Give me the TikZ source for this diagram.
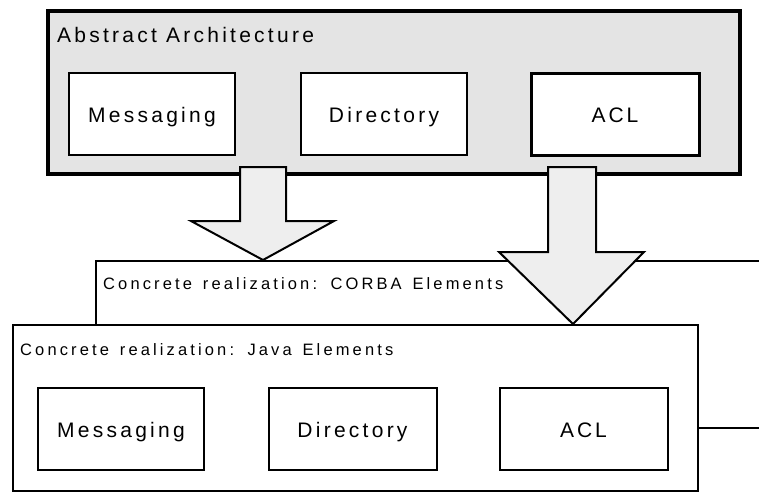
\documentclass[tikz,border=0pt]{standalone}
\usepackage{fontspec}
\setmainfont{Liberation Sans}
\newfontfamily\bigfont[LetterSpace=15.5]{Liberation Sans}
\newfontfamily\smallfont[LetterSpace=19,WordSpace=1.4]{Liberation Sans}
\definecolor{archgray}{HTML}{E4E4E4}
\definecolor{arrowgray}{HTML}{EEEEEE}

\begin{document}
\begin{tikzpicture}[x=1pt,y=-1pt]

      \useasboundingbox (0,0) rectangle (759,493);

      % back layers
      \draw[line width=2pt,fill=white] (759,261) -- (96,261) -- (96,330);
      \node[draw,line width=2pt,fill=white,minimum width=685pt,minimum height=166pt,inner sep=0pt] (java) at (355.5,408) {};
      \coordinate (rim) at (759,428);
      \draw[line width=2pt] (java.east |- rim) -- (rim);

      \begin{scope}[every node/.style={anchor=base west,inner sep=0pt,font=\smallfont\fontsize{16.5}{20}\selectfont}]
        \node (corbalabel) at (103,289) {Concrete realization: CORBA Elements};
        \node (javalabel) at (20,355) {Concrete realization: Java Elements};
      \end{scope}

      % abstract architecture
      \node[draw,line width=3.5pt,fill=archgray,minimum width=692pt,minimum height=163pt,inner sep=0pt] (arch) at (394,92.5) {};
      \node[anchor=base west,inner sep=0pt,font=\bigfont\fontsize{21}{25}\selectfont] (archlabel) at (57,42) {Abstract Architecture};

      \begin{scope}[every node/.style={draw,line width=2pt,fill=white,minimum width=166pt,minimum height=82pt,inner sep=0pt,text height=17.5pt,text depth=0pt,font=\bigfont\fontsize{21}{25}\selectfont}]
        \node (amsg) at (152,114) {Messaging};
        \node (adir) at (384,114) {Directory};
        \node[line width=3pt,minimum width=168pt] (aacl) at (615,114) {A\kern3pt C\kern3pt L};

        \node (jmsg) at (121,429) {Messaging};
        \node[minimum width=168pt] (jdir) at (352.5,429) {Directory};
        \node[minimum width=168pt] (jacl) at (583.5,429) {A\kern3pt C\kern3pt L};
      \end{scope}

      % block arrows
      \begin{scope}[line width=2pt,fill=arrowgray,line join=miter]
        \filldraw (240,167) -- (286,167) -- (286,221) -- (334,221) -- (263,260) -- (191,221) -- (240,221) -- cycle;
        \filldraw (548,167) -- (596,167) -- (596,252) -- (644,252) -- (573,324) -- (499,252) -- (548,252) -- cycle;
      \end{scope}

    \end{tikzpicture}
\end{document}
